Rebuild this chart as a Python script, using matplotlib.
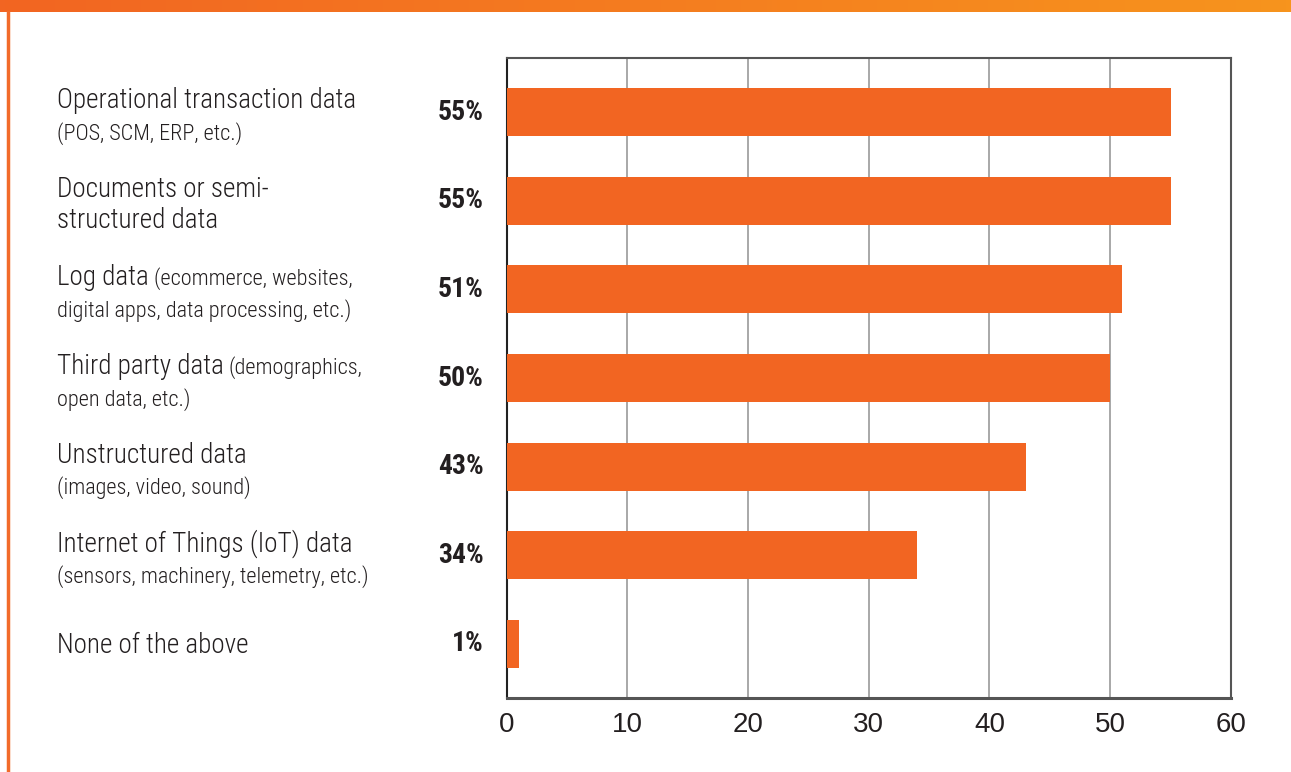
import numpy as np
import matplotlib
matplotlib.use("Agg")
import matplotlib.pyplot as plt
from matplotlib.transforms import IdentityTransform
from matplotlib.lines import Line2D

# label lines per category: list of lines, each line a (large, small) pair
labels = [
    [("Operational transaction data", ""), ("", "(POS, SCM, ERP, etc.)")],
    [("Documents or semi-", ""), ("structured data", "")],
    [("Log data", "(ecommerce, websites,"), ("", "digital apps, data processing, etc.)")],
    [("Third party data", "(demographics,"), ("", "open data, etc.)")],
    [("Unstructured data", ""), ("", "(images, video, sound)")],
    [("Internet of Things (IoT) data", ""), ("", "(sensors, machinery, telemetry, etc.)")],
    [("None of the above", "")],
]
values = [55, 55, 51, 50, 43, 34, 1]
xticks = [0, 10, 20, 30, 40, 50, 60]

ORANGE = "#F26522"
TEXT = "#231F20"
NARROW = ["Roboto Condensed", "Barlow Semi Condensed", "DejaVu Sans"]

W, H = 1291, 772
fig = plt.figure(figsize=(W / 100, H / 100), dpi=100)
fig.patch.set_facecolor("white")

# orange header strip with a left-to-right gradient
strip = fig.add_axes([0, 1 - 12 / H, 1, 12 / H])
grad = np.linspace(0, 1, 256).reshape(1, -1)
cmap = matplotlib.colors.LinearSegmentedColormap.from_list("hdr", ["#F26522", "#F7941D"])
strip.imshow(grad, aspect="auto", cmap=cmap, extent=[0, 1, 0, 1])
strip.axis("off")

# thin orange rule down the left edge
fig.add_artist(Line2D([7.5 / W, 7.5 / W], [0, 1 - 12 / H], transform=fig.transFigure,
                      color="#F26B2A", linewidth=2.5))

ax = fig.add_axes([506.5 / W, 1 - 698 / H, (1231 - 506.5) / W, (698 - 58) / H])
y = np.arange(len(values))
ax.barh(y, values, height=0.54, color=ORANGE, zorder=3)
ax.set_xlim(0, 60)
ax.set_ylim(len(values) - 0.39, -0.61)
ax.set_xticks(xticks)
ax.set_yticks([])
ax.grid(axis="x", color="#9A9A9A", linewidth=1.2, zorder=0)
ax.tick_params(axis="x", length=0, pad=10, labelsize=20, labelcolor=TEXT)
for lbl in ax.get_xticklabels():
    lbl.set_fontfamily(["Liberation Sans", "DejaVu Sans"])
for side in ["top", "right"]:
    ax.spines[side].set_color("#555555")
    ax.spines[side].set_linewidth(1.5)
ax.spines["left"].set_color("#222222")
ax.spines["left"].set_linewidth(1.5)
ax.spines["bottom"].set_color("#555555")
ax.spines["bottom"].set_linewidth(2.2)

fig.canvas.draw()
renderer = fig.canvas.get_renderer()
ident = IdentityTransform()

for i, (lines, v) in enumerate(zip(labels, values)):
    cy = ax.transData.transform((0, i))[1]
    # value label, bold, right of the category text
    fig.text(484, cy, f"{v}%", transform=ident, ha="right", va="center",
             fontsize=20, fontweight="bold", color=TEXT, family=NARROW)
    if len(lines) == 1:
        baselines = [cy - 9]
    else:
        baselines = [cy + 4, cy - 27.5]
    for (big, small), by in zip(lines, baselines):
        x = 57
        if big:
            t = fig.text(x, by, big, transform=ident, ha="left", va="baseline",
                         fontsize=19.5, fontweight="light", color=TEXT, family=NARROW)
            x = t.get_window_extent(renderer).x1 + 5
        if small:
            fig.text(x, by, small, transform=ident, ha="left", va="baseline",
                     fontsize=16, fontweight="light", color=TEXT, family=NARROW)

fig.savefig("out.png", dpi=100, facecolor="white")
